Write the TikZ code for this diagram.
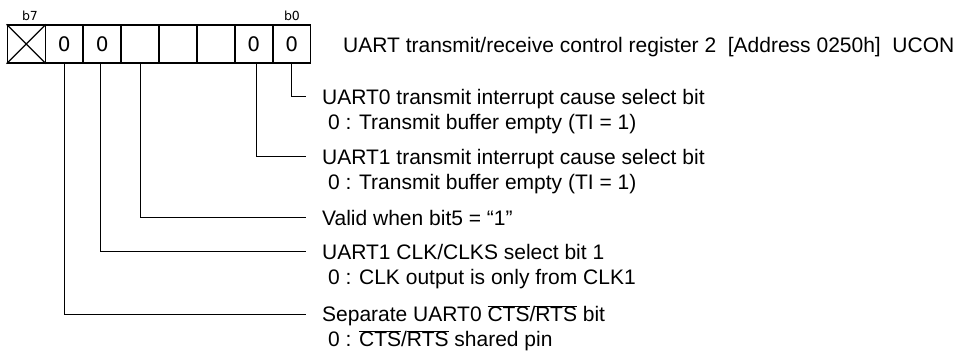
\documentclass[tikz,border=0pt]{standalone}
\usepackage{fontspec}
\setmainfont{Liberation Sans}
\newfontfamily\cellfont{DejaVu Sans}
\newcommand\ovl[1]{$\overline{\hbox{#1}}$}
\begin{document}
\begin{tikzpicture}[x=1pt,y=-1pt,
  cell/.style={draw, line width=1.4pt, minimum width=37.93pt, minimum height=38pt,
    inner sep=0pt, font=\cellfont\fontsize{20}{20}\selectfont},
  bitlbl/.style={inner sep=0pt, anchor=base, font=\cellfont\fontsize{12.5}{12.5}\selectfont},
  desc/.style={inner sep=0pt, anchor=base west, text height=15pt, text depth=0pt,
    font=\fontsize{21}{25}\selectfont},
  leader/.style={draw, line width=0.9pt}]
\useasboundingbox (0,0) rectangle (962,351);

% register cells, b7 on the left
\foreach \b/\v in {7/,6/0,5/0,4/,3/,2/,1/0,0/0}
  \node[cell] (c\b) at ({7.3+(7.5-\b)*37.93},44) {\v};
\draw[line width=1.2pt] (c7.north west) -- (c7.south east)
                        (c7.south west) -- (c7.north east);

\node[bitlbl] (l7) at (30,20.5) {b7};
\node[bitlbl] (l0) at (292,20.5) {b0};

% register title
\node[desc] (hdr) at (343,52.5) {UART transmit/receive control register 2\ \ [Address 0250h]\ \ UCON};

% bit descriptions
\node[desc] (d0)  at (322,104.2) {UART0 transmit interrupt cause select bit};
\node[desc] (d0s) at (322,129.2) {\ 0 : Transmit buffer empty (TI = 1)};
\node[desc] (d1)  at (322,164.2) {UART1 transmit interrupt cause select bit};
\node[desc] (d1s) at (322,189.2) {\ 0 : Transmit buffer empty (TI = 1)};
\node[desc] (d4)  at (322,225.2) {Valid when bit5 = “1”};
\node[desc] (d5)  at (322,259.2) {UART1 CLK/CLKS select bit 1};
\node[desc] (d5s) at (322,284.2) {\ 0 : CLK output is only from CLK1};
\node[desc] (d6)  at (322,321.8) {Separate UART0 \ovl{CTS}/\ovl{RTS} bit};
\node[desc] (d6s) at (322,346.8) {\ 0 : \ovl{CTS}/\ovl{RTS} shared pin};

% leaders from the bits to their descriptions
\draw[leader] (c0.south) |- ([xshift=-16pt]d0.west);
\draw[leader] ([xshift=3pt]c1.south) |- ([xshift=-16pt]d1.west);
\draw[leader] (c4.south) |- ([xshift=-16pt]d4.west);
\draw[leader] ([xshift=-2pt]c5.south) |- ([xshift=-16pt]d5.west);
\draw[leader] (c6.south) |- ([xshift=-16pt]d6.west);
\end{tikzpicture}
\end{document}
